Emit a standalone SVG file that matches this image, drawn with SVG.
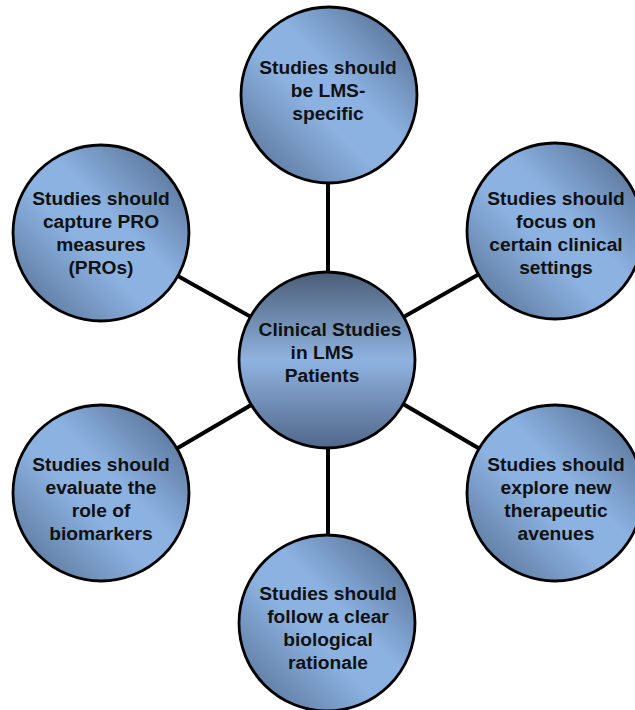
<svg xmlns="http://www.w3.org/2000/svg" width="635" height="710" viewBox="0 0 635 710">
<defs>
<linearGradient id="gOuter" x1="0" y1="1" x2="1" y2="0">
<stop offset="0" stop-color="#50698a"/>
<stop offset="0.42" stop-color="#8cb2e2"/>
<stop offset="0.58" stop-color="#8cb2e2"/>
<stop offset="1" stop-color="#4b6283"/>
</linearGradient>
<linearGradient id="gCenter" x1="0" y1="0" x2="0" y2="1">
<stop offset="0" stop-color="#4a5d77"/>
<stop offset="0.5" stop-color="#8fb3e0"/>
<stop offset="1" stop-color="#51678a"/>
</linearGradient>
<style>
.node circle{stroke:#000;stroke-width:2.8}
.outer{fill:url(#gOuter)}
.center{fill:url(#gCenter)}
text{font-family:"Liberation Sans",Arial,sans-serif;font-weight:bold;font-size:19.2px;fill:#111;text-anchor:middle}
.conn line{stroke:#000;stroke-width:4}
</style>
</defs>
<rect width="635" height="710" fill="#fff"/>
<g id="connectors" class="conn">
<line x1="328" y1="360" x2="328" y2="95"/>
<line x1="328" y1="360" x2="101" y2="233"/>
<line x1="328" y1="360" x2="555" y2="231"/>
<line x1="328" y1="360" x2="101" y2="493"/>
<line x1="328" y1="360" x2="555" y2="493"/>
<line x1="328" y1="360" x2="328" y2="623"/>
</g>
<g id="n-top" class="node">
<circle class="outer" cx="329" cy="95" r="88"/>
<text x="328" y="74">Studies should</text>
<text x="328" y="97">be LMS-</text>
<text x="328" y="120">specific</text>
</g>
<g id="n-upleft" class="node">
<circle class="outer" cx="101" cy="233" r="88"/>
<text x="101" y="205">Studies should</text>
<text x="101" y="228">capture PRO</text>
<text x="101" y="251">measures</text>
<text x="101" y="274">(PROs)</text>
</g>
<g id="n-upright" class="node">
<circle class="outer" cx="555" cy="231" r="88"/>
<text x="556" y="205">Studies should</text>
<text x="556" y="228">focus on</text>
<text x="556" y="251">certain clinical</text>
<text x="556" y="274">settings</text>
</g>
<g id="n-center" class="node">
<circle class="center" cx="327" cy="360" r="88"/>
<text x="330" y="336">Clinical Studies</text>
<text x="322" y="359">in LMS</text>
<text x="322" y="382">Patients</text>
</g>
<g id="n-lowleft" class="node">
<circle class="outer" cx="101" cy="493" r="88"/>
<text x="101" y="471">Studies should</text>
<text x="101" y="494">evaluate the</text>
<text x="101" y="517">role of</text>
<text x="101" y="540">biomarkers</text>
</g>
<g id="n-lowright" class="node">
<circle class="outer" cx="555" cy="493" r="88"/>
<text x="556" y="471">Studies should</text>
<text x="556" y="494">explore new</text>
<text x="556" y="517">therapeutic</text>
<text x="556" y="540">avenues</text>
</g>
<g id="n-bottom" class="node">
<circle class="outer" cx="327" cy="623" r="88"/>
<text x="328" y="600">Studies should</text>
<text x="328" y="623">follow a clear</text>
<text x="328" y="646">biological</text>
<text x="328" y="669">rationale</text>
</g>
</svg>
